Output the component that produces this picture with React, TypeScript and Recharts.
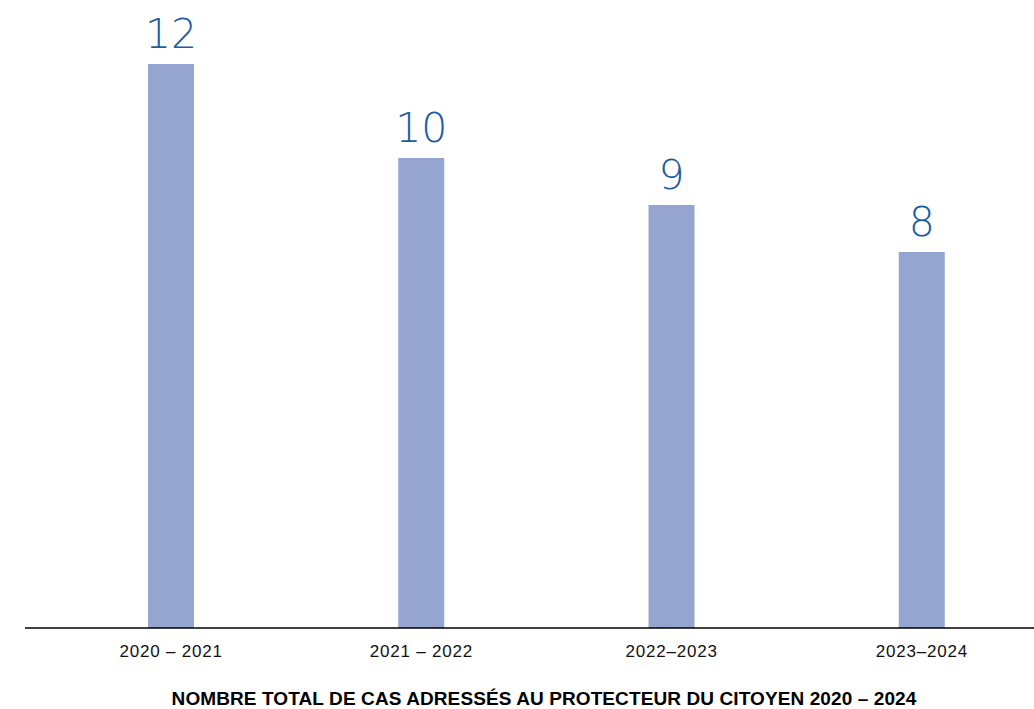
import React from "react";
import { BarChart, Bar, XAxis, YAxis, LabelList, Label } from "recharts";

const periods = ["2020 – 2021", "2021 – 2022", "2022–2023", "2023–2024"];
const cases = [12, 10, 9, 8];
const title = "NOMBRE TOTAL DE CAS ADRESSÉS AU PROTECTEUR DU CITOYEN 2020 – 2024";

const data = periods.map((p, i) => ({ period: p, cases: cases[i] }));

export default function App() {
  return (
    <div
      style={{
        position: "absolute",
        left: 0,
        top: 0,
        width: 1034,
        height: 709,
        overflow: "hidden",
        background: "#fff",
      }}
    >
      <BarChart
        width={1047}
        height={709}
        data={data}
        margin={{ top: 64, right: 0, bottom: 1, left: 25 }}
      >
        <YAxis hide domain={[0, 12]} />
        <XAxis
          dataKey="period"
          height={80}
          padding={{ left: 21, right: 0 }}
          axisLine={{ stroke: "#000", strokeWidth: 1.4 }}
          tickLine={false}
          tickSize={0}
          tickMargin={17}
          interval={0}
          tick={{
            fill: "#111",
            fontSize: 17,
            fontFamily: "'Liberation Sans', Arial, sans-serif",
            letterSpacing: 0.8,
          }}
        >
          <Label
            value={title}
            position="insideBottom"
            offset={3}
            dx={8}
            style={{
              fill: "#000",
              fontSize: 19,
              fontWeight: 700,
              fontFamily: "'Liberation Sans', Arial, sans-serif",
              letterSpacing: 0.1,
            }}
          />
        </XAxis>
        <Bar dataKey="cases" fill="#95a5cf" barSize={46} isAnimationActive={false}>
          <LabelList
            dataKey="cases"
            position="top"
            offset={16}
            style={{
              fill: "#1b5ca6",
              fontSize: 41,
              fontWeight: 200,
              fontFamily: "'DejaVu Sans', sans-serif",
            }}
          />
        </Bar>
      </BarChart>
    </div>
  );
}
